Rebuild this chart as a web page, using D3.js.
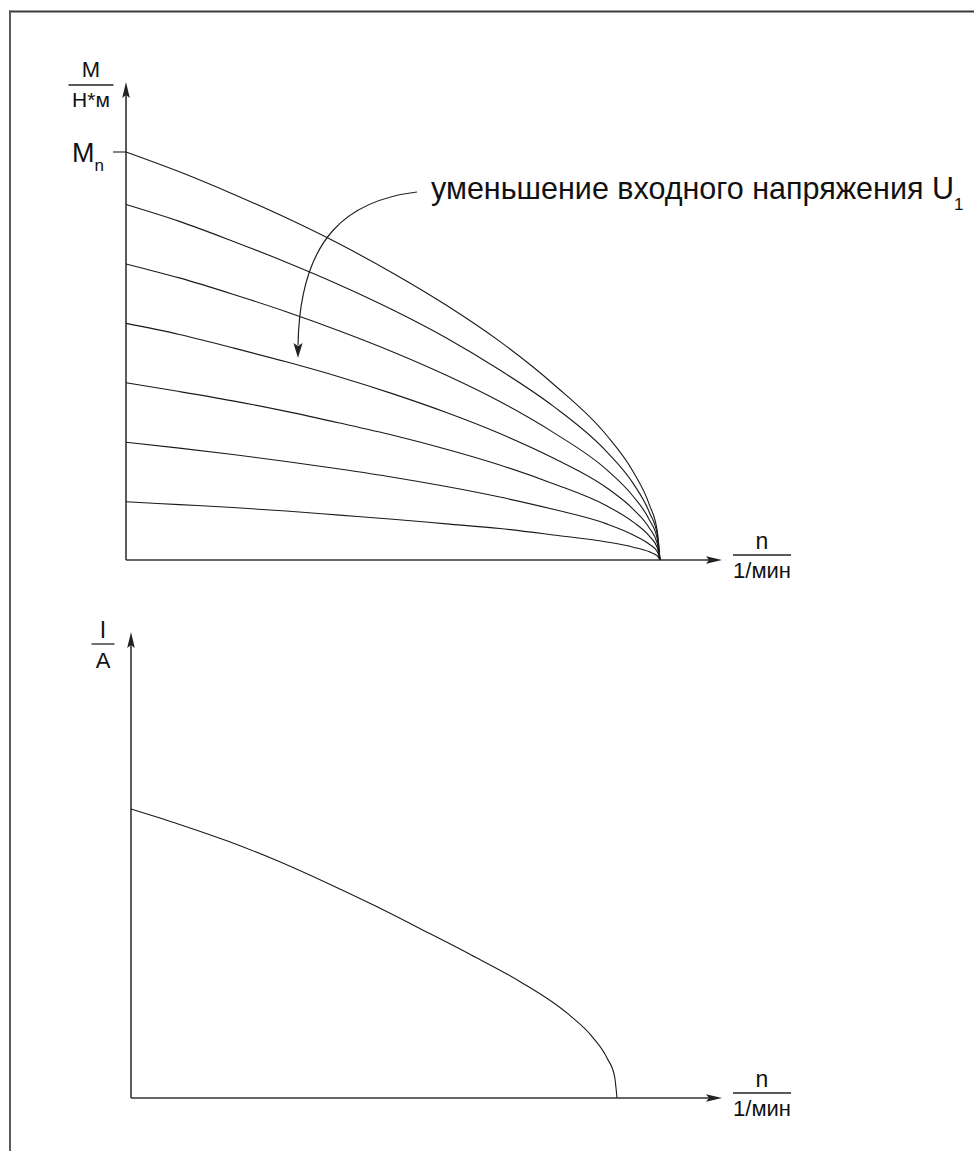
<!DOCTYPE html>
<html>
<head>
<meta charset="utf-8">
<script src="https://cdn.jsdelivr.net/npm/d3@7"></script>
<style>
html,body{margin:0;padding:0;background:#fff;}
svg{display:block;}
text{font-family:"Liberation Sans",Arial,Helvetica,sans-serif;fill:#111;}
</style>
</head>
<body>
<svg id="chart" width="974" height="1151"></svg>
<script>
// ---------- DATA ----------
// speed samples (percent of synchronous speed)
const nTorque = [0, 10, 20, 30, 40, 50, 60, 70, 80, 90, 95, 98, 99.5, 100];
// torque curves for decreasing input voltage U1 (M in relative units, Mn = 7)
const torque1 = [7.00, 6.66, 6.28, 5.87, 5.42, 4.92, 4.37, 3.75, 3.02, 2.14, 1.51, 0.95, 0.49, 0];
const torque2 = [6.10, 5.81, 5.47, 5.11, 4.72, 4.29, 3.81, 3.26, 2.64, 1.86, 1.31, 0.82, 0.43, 0];
const torque3 = [5.08, 4.84, 4.56, 4.26, 3.93, 3.57, 3.17, 2.72, 2.19, 1.55, 1.09, 0.69, 0.36, 0];
const torque4 = [4.06, 3.87, 3.64, 3.40, 3.14, 2.85, 2.53, 2.17, 1.75, 1.24, 0.87, 0.55, 0.28, 0];
const torque5 = [3.04, 2.89, 2.73, 2.55, 2.35, 2.14, 1.90, 1.63, 1.31, 0.93, 0.65, 0.41, 0.21, 0];
const torque6 = [2.02, 1.92, 1.81, 1.69, 1.56, 1.42, 1.26, 1.08, 0.87, 0.62, 0.43, 0.27, 0.14, 0];
const torque7 = [1.00, 0.95, 0.90, 0.84, 0.77, 0.70, 0.62, 0.54, 0.43, 0.31, 0.22, 0.14, 0.07, 0];
const torqueSeries = [torque1, torque2, torque3, torque4, torque5, torque6, torque7];
const torqueTickValues = [7];
const torqueTickLabel = "M";
const torqueTickSub = "n";

// current curve
const nCurrent = [0, 10, 20, 30, 40, 50, 60, 70, 80, 90, 95, 98, 99.5, 100];
const current  = [6.0, 5.68, 5.33, 4.93, 4.48, 4.00, 3.49, 2.97, 2.42, 1.74, 1.26, 0.82, 0.45, 0];

const labels = {
  mNum: "М", mDen: "Н*м",
  nNum: "n", nDen: "1/мин",
  iNum: "I", iDen: "A",
  note: "уменьшение входного напряжения U", noteSub: "1"
};

// ---------- DRAW ----------
const svg = d3.select("#chart");
const ink = "#1a1a1a", axisInk = "#333";

// frame
svg.append("line").attr("x1",9).attr("y1",11.5).attr("x2",974).attr("y2",11.5)
  .attr("stroke","#3a3a3a").attr("stroke-width",2);
svg.append("line").attr("x1",10).attr("y1",10.5).attr("x2",10).attr("y2",1151)
  .attr("stroke","#5a5a5a").attr("stroke-width",2);

function arrowHead(g, tipX, tipY, dir){
  const L = 16, W = 3.8;
  let p;
  if(dir==="up") p = [[tipX,tipY],[tipX+W,tipY+L],[tipX,tipY+L-3],[tipX-W,tipY+L]];
  else if(dir==="down") p = [[tipX,tipY],[tipX+W*1.2,tipY-L+1],[tipX,tipY-L+4],[tipX-W*1.2,tipY-L+1]];
  else p = [[tipX,tipY],[tipX-L,tipY-W],[tipX-L+3,tipY],[tipX-L,tipY+W]];
  g.append("path").attr("d","M"+p.map(d=>d.join(",")).join("L")+"Z").attr("fill","#222");
}

function fraction(g, cx, lineY, num, den, numSize, denSize, halfW, numOff, denOff){
  g.append("text").attr("x",cx).attr("y",lineY-numOff).attr("text-anchor","middle")
    .attr("font-size",numSize).text(num);
  g.append("line").attr("x1",cx-halfW).attr("x2",cx+halfW).attr("y1",lineY).attr("y2",lineY)
    .attr("stroke","#222").attr("stroke-width",1.3);
  g.append("text").attr("x",cx).attr("y",lineY+denOff).attr("text-anchor","middle")
    .attr("font-size",denSize).text(den);
}

// ---- upper panel: torque ----
const gT = svg.append("g");
const xT = d3.scaleLinear().domain([0,100]).range([126,660]);
const yT = d3.scaleLinear().domain([0,7]).range([560,152]);
const xTmax = xT.invert(722), yTmax = yT.invert(82);

gT.append("line").attr("x1",xT(0)).attr("x2",xT(xTmax)-10).attr("y1",yT(0)).attr("y2",yT(0))
  .attr("stroke",axisInk).attr("stroke-width",1.6);
gT.append("line").attr("x1",xT(0)).attr("x2",xT(0)).attr("y1",yT(0)).attr("y2",yT(yTmax)+10)
  .attr("stroke",axisInk).attr("stroke-width",1.6);
arrowHead(gT, xT(xTmax), yT(0), "right");
arrowHead(gT, xT(0), yT(yTmax), "up");

// Mn tick
torqueTickValues.forEach(v=>{
  gT.append("line").attr("x1",xT(0)-13).attr("x2",xT(0)).attr("y1",yT(v)).attr("y2",yT(v))
    .attr("stroke",axisInk).attr("stroke-width",1.2);
  const t = gT.append("text").attr("x",72).attr("y",yT(v)+10).attr("font-size",27);
  t.append("tspan").text(torqueTickLabel);
  t.append("tspan").attr("font-size",17).attr("dy",9).text(torqueTickSub);
});

const lineT = d3.line().x((d,i)=>xT(nTorque[i])).y(d=>yT(d)).curve(d3.curveMonotoneX);
gT.selectAll("path.curve").data(torqueSeries).join("path").attr("class","curve")
  .attr("d",lineT).attr("fill","none").attr("stroke",ink).attr("stroke-width",1.1);

fraction(gT, 91, 85, labels.mNum, labels.mDen, 22, 21, 22.5, 8, 22);
fraction(gT, 762, yT(0)-5, labels.nNum, labels.nDen, 23, 22, 29, 6, 23);

// annotation arrow
const arrowPath = d3.path();
arrowPath.moveTo(417,192);
arrowPath.bezierCurveTo(350,200,300,235,298,345);
gT.append("path").attr("d",arrowPath.toString()).attr("fill","none").attr("stroke","#222").attr("stroke-width",1.2);
arrowHead(gT, 298, 358, "down");

const note = gT.append("text").attr("x",431).attr("y",199).attr("font-size",30.5);
note.append("tspan").text(labels.note);
note.append("tspan").attr("font-size",17).attr("dy",11).text(labels.noteSub);

// ---- lower panel: current ----
const gI = svg.append("g");
const xI = d3.scaleLinear().domain([0,100]).range([131,617]);
const yI = d3.scaleLinear().domain([0,6]).range([1098,809]);
const xImax = xI.invert(722), yImax = yI.invert(632);

gI.append("line").attr("x1",xI(0)).attr("x2",xI(xImax)-10).attr("y1",yI(0)).attr("y2",yI(0))
  .attr("stroke",axisInk).attr("stroke-width",1.6);
gI.append("line").attr("x1",xI(0)).attr("x2",xI(0)).attr("y1",yI(0)).attr("y2",yI(yImax)+10)
  .attr("stroke",axisInk).attr("stroke-width",1.6);
arrowHead(gI, xI(xImax), yI(0), "right");
arrowHead(gI, xI(0), yI(yImax), "up");

const lineI = d3.line().x((d,i)=>xI(nCurrent[i])).y(d=>yI(d)).curve(d3.curveMonotoneX);
gI.append("path").datum(current).attr("d",lineI).attr("fill","none")
  .attr("stroke",ink).attr("stroke-width",1.1);

fraction(gI, 103, 644, labels.iNum, labels.iDen, 23, 22, 11.5, 6, 24);
fraction(gI, 762, yI(0)-5, labels.nNum, labels.nDen, 23, 22, 29, 6, 23);
</script>
</body>
</html>
